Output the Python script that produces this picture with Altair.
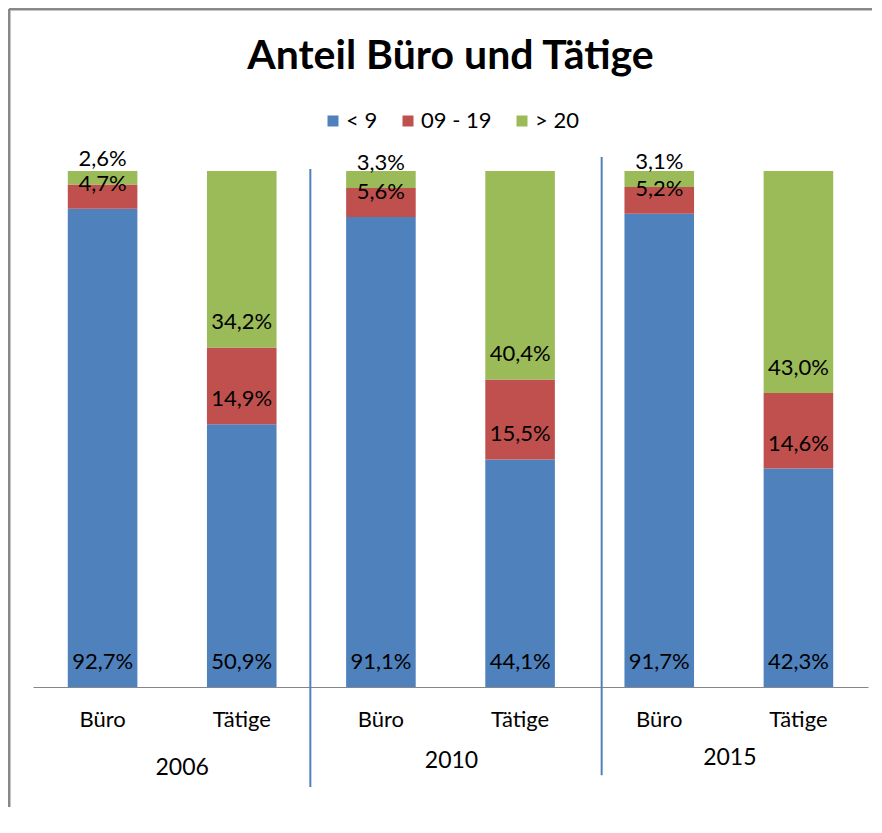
import altair as alt
import pandas as pd

# ---- data ----
years = ["2006", "2010", "2015"]
groups = ["Büro", "Tätige"]
series = ["< 9", "09 - 19", "> 20"]
colors = ["#4F81BD", "#C0504D", "#9BBB59"]

# values per category (2006 Büro, 2006 Tätige, 2010 Büro, 2010 Tätige, 2015 Büro, 2015 Tätige)
lt9 = [92.7, 50.9, 91.1, 44.1, 91.7, 42.3]
mid = [4.7, 14.9, 5.6, 15.5, 5.2, 14.6]
gt20 = [2.6, 34.2, 3.3, 40.4, 3.1, 43.0]

cats = [f"{y}|{g}" for y in years for g in groups]

rows = []
for i, c in enumerate(cats):
    for k, (s, vals) in enumerate(zip(series, [lt9, mid, gt20])):
        v = vals[i]
        rows.append(dict(cat=c, series=s, order=k, value=v,
                         label=f"{v:.1f}".replace(".", ",") + "%"))
df = pd.DataFrame(rows)

W, H = 835, 516
FONT = "Lato"
n_slots = len(cats)

xscale = alt.Scale(domain=cats, paddingInner=0.5, paddingOuter=0.25)
yscale = alt.Scale(domain=[0, 1], nice=False, zero=False)
slot_scale = alt.Scale(domain=[0, n_slots], nice=False, zero=False)

x_axis = alt.Axis(title=None, orient="bottom",
                  labelExpr="split(datum.label, '|')[1]",
                  ticks=False, tickSize=0, labelPadding=32,
                  labelBaseline="middle", labelFont=FONT, labelFontSize=22,
                  labelColor="black", domainColor="#868686", domainWidth=1,
                  labelAngle=0, grid=False)

base = alt.Chart(df).transform_stack(
    stack="value", groupby=["cat"], as_=["v0", "v1"], offset="normalize",
    sort=[alt.SortField("order", order="ascending")]
)

bars = base.mark_bar().encode(
    x=alt.X("cat:N", scale=xscale, axis=x_axis),
    y=alt.Y("v0:Q", scale=yscale, axis=None),
    y2="v1:Q",
    color=alt.Color("series:N", scale=alt.Scale(domain=series, range=colors),
                    legend=alt.Legend(title=None, orient="none", legendX=289, legendY=-61,
                                      direction="horizontal", symbolType="square",
                                      symbolSize=121, symbolStrokeWidth=0,
                                      labelFont=FONT, labelFontSize=22, labelColor="black",
                                      labelOffset=2, columnPadding=19)),
)

labels = base.mark_text(font=FONT, fontSize=22, color="black", baseline="middle", dy=-25).encode(
    x=alt.X("cat:N", scale=xscale, axis=x_axis),
    y=alt.Y("v0:Q", scale=yscale, axis=None),
    text="label:N",
)

bar_layer = alt.layer(bars, labels)


def separator(slot, xoff, top, bottom):
    return alt.Chart(pd.DataFrame({"slot": [slot]})).mark_rule(
        color="#4F81BD", strokeWidth=2, xOffset=xoff).encode(
        x=alt.X("slot:Q", scale=slot_scale, axis=None),
        y=alt.Y(datum=top, axis=None), y2=alt.Y2(datum=bottom))


def year_label(i, year, dx, ypos):
    return alt.Chart(pd.DataFrame({"slot": [2 * i + 1], "year": [year]})).mark_text(
        font=FONT, fontSize=23, color="black", baseline="middle", dx=dx).encode(
        x=alt.X("slot:Q", scale=slot_scale, axis=None),
        y=alt.Y(datum=ypos, axis=None), text="year:N")


deco = alt.layer(
    separator(2, -1, 1.004, -0.194),
    separator(4, 12, 1.027, -0.171),
    year_label(0, years[0], 10, -0.157),
    year_label(1, years[1], 1, -0.143),
    year_label(2, years[2], 1, -0.137),
)

frame_src = pd.DataFrame({"a": [0]})
frame_left = alt.Chart(frame_src).mark_rule(color="#888888", strokeWidth=3).encode(
    x=alt.value(-24), y=alt.value(-162), y2=alt.value(H + 120))
frame_top = alt.Chart(frame_src).mark_rule(color="#888888", strokeWidth=3).encode(
    x=alt.value(-24), x2=alt.value(W + 4), y=alt.value(-162))

title = alt.Chart(pd.DataFrame({"t": ["Anteil Büro und Tätige"]})).mark_text(
    font=FONT, fontSize=41, fontWeight="bold", color="black", baseline="middle", align="center"
).encode(x=alt.value(W / 2), y=alt.value(-114), text="t:N")

chart = alt.layer(bar_layer, deco, frame_left, frame_top, title).resolve_scale(
    x="independent").properties(
    width=W, height=H,
    padding={"left": 25, "top": 163, "right": 4, "bottom": 120},
    autosize=alt.AutoSizeParams(type="none"),
    background="white",
).configure_view(strokeWidth=0, stroke="transparent")

chart.save("out.html", embed_options={"renderer": "svg", "actions": False})
